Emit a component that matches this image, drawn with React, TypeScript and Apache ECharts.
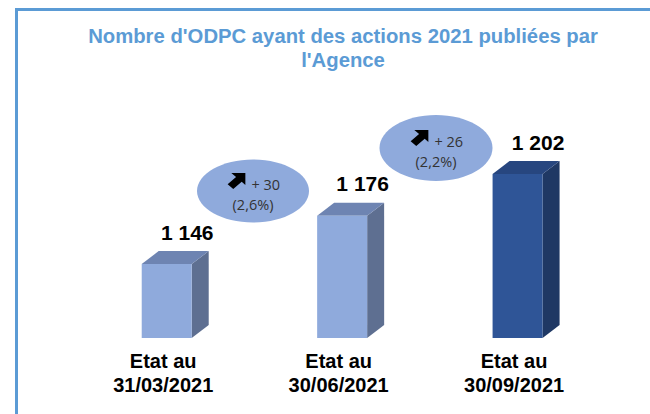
import React, { useEffect, useRef } from 'react';
import * as echarts from 'echarts';

const categories = ['Etat au\n31/03/2021', 'Etat au\n30/06/2021', 'Etat au\n30/09/2021'];
const values = [1146, 1176, 1202];
const changes = ['+ 30', '+ 26'];
const changePcts = ['(2,6%)', '(2,2%)'];
const titleText = "Nombre d'ODPC ayant des actions 2021 publiées par\nl'Agence";

const palettes = [
  { front: '#8FAADC', top: '#6E84B2', side: '#5E6F91' },
  { front: '#8FAADC', top: '#6E84B2', side: '#5E6F91' },
  { front: '#2F5597', top: '#27467F', side: '#1F3864' },
];

const fmt = (v: number) => String(v).replace(/\B(?=(\d{3})+(?!\d))/g, ' ');

function arrowPoints(cx: number, cy: number, s: number) {
  const pts = [
    [5, 0], [18, 0], [18, 13], [14.6, 9.6], [6.8, 17.4], [1.6, 12.2], [9.4, 4.4],
  ];
  const ocx = 9.8, ocy = 8.7;
  return pts.map(([x, y]) => [cx + (x - ocx) * s, cy + (y - ocy) * s * 0.85]);
}

export default function App() {
  const ref = useRef<HTMLDivElement>(null);
  useEffect(() => {
    if (!ref.current) return;
    const chart = echarts.init(ref.current, undefined, { renderer: 'svg' });
    const bubbles = [
      { cx: 253, cy: 191, rx: 56, ry: 31.5 },
      { cx: 436, cy: 148, rx: 56.5, ry: 33 },
    ];
    const bubbleEls: any[] = [];
    bubbles.forEach((b, i) => {
      bubbleEls.push({
        type: 'ellipse',
        shape: { cx: b.cx, cy: b.cy, rx: b.rx, ry: b.ry },
        style: { fill: '#8FAADC' },
        z: 10,
      });
      bubbleEls.push({
        type: 'polygon',
        shape: { points: arrowPoints(b.cx - 16.5, b.cy - 10, 1.08) },
        style: { fill: '#000' },
        z: 11,
      });
      bubbleEls.push({
        type: 'text',
        x: b.cx - 1.5,
        y: b.cy - 7,
        style: {
          text: changes[i],
          fill: '#333333',
          font: '14.5px "Open Sans"',
          align: 'left',
          verticalAlign: 'middle',
        },
        z: 11,
      });
      bubbleEls.push({
        type: 'text',
        x: b.cx,
        y: b.cy + 13.5,
        style: {
          text: changePcts[i],
          fill: '#333333',
          font: '14.5px "Open Sans"',
          align: 'center',
          verticalAlign: 'middle',
        },
        z: 11,
      });
    });

    chart.setOption({
      animation: false,
      backgroundColor: '#ffffff',
      grid: { left: 75.5, right: 48.2, top: 16.6, bottom: 76 },
      xAxis: {
        type: 'category',
        data: categories,
        axisLine: { show: false },
        axisTick: { show: false },
        axisLabel: {
          margin: 11,
          color: '#000',
          fontFamily: '"Liberation Sans", Arial, sans-serif',
          fontWeight: 'bold',
          fontSize: 20,
          lineHeight: 24,
        },
      },
      yAxis: {
        type: 'value',
        min: 1100,
        max: 1300,
        show: false,
      },
      graphic: [
        {
          type: 'rect',
          shape: { x: 16.5, y: 9.5, width: 700, height: 500 },
          style: { fill: 'none', stroke: '#5B9BD5', lineWidth: 3 },
        },
        {
          type: 'text',
          x: 343,
          y: 24.5,
          style: {
            text: titleText,
            fill: '#5B9BD5',
            font: 'bold 20.3px "Liberation Sans", Arial, sans-serif',
            lineHeight: 23.5,
            align: 'center',
            verticalAlign: 'top',
          },
        },
        ...bubbleEls,
      ],
      series: [
        {
          type: 'custom',
          data: values.map((v, i) => [i, v]),
          renderItem: (params: any, api: any) => {
            const i = api.value(0);
            const v = api.value(1);
            const top = api.coord([i, v]);
            const base = api.coord([i, 1100]);
            const x0 = top[0] - 21.5;
            const x1 = top[0] + 28.5;
            const yT = top[1];
            const yB = base[1];
            const dx = 17;
            const dy = -13;
            const p = palettes[params.dataIndex];
            return {
              type: 'group',
              children: [
                {
                  type: 'polygon',
                  shape: { points: [[x1, yT], [x1 + dx, yT + dy], [x1 + dx, yB + dy], [x1, yB]] },
                  style: { fill: p.side },
                },
                {
                  type: 'polygon',
                  shape: { points: [[x0, yT], [x0 + dx, yT + dy], [x1 + dx, yT + dy], [x1, yT]] },
                  style: { fill: p.top },
                },
                {
                  type: 'rect',
                  shape: { x: x0, y: yT, width: x1 - x0, height: yB - yT },
                  style: { fill: p.front },
                },
                {
                  type: 'text',
                  x: top[0] + 24,
                  y: yT - 32,
                  style: {
                    text: fmt(v),
                    fill: '#000',
                    font: 'bold 21px "Liberation Sans", Arial, sans-serif',
                    align: 'center',
                    verticalAlign: 'middle',
                  },
                },
              ],
            };
          },
        },
      ],
    });
    return () => chart.dispose();
  }, []);
  return (
    <div
      ref={ref}
      style={{ position: 'absolute', left: 0, top: 0, width: 650, height: 414 }}
    />
  );
}
